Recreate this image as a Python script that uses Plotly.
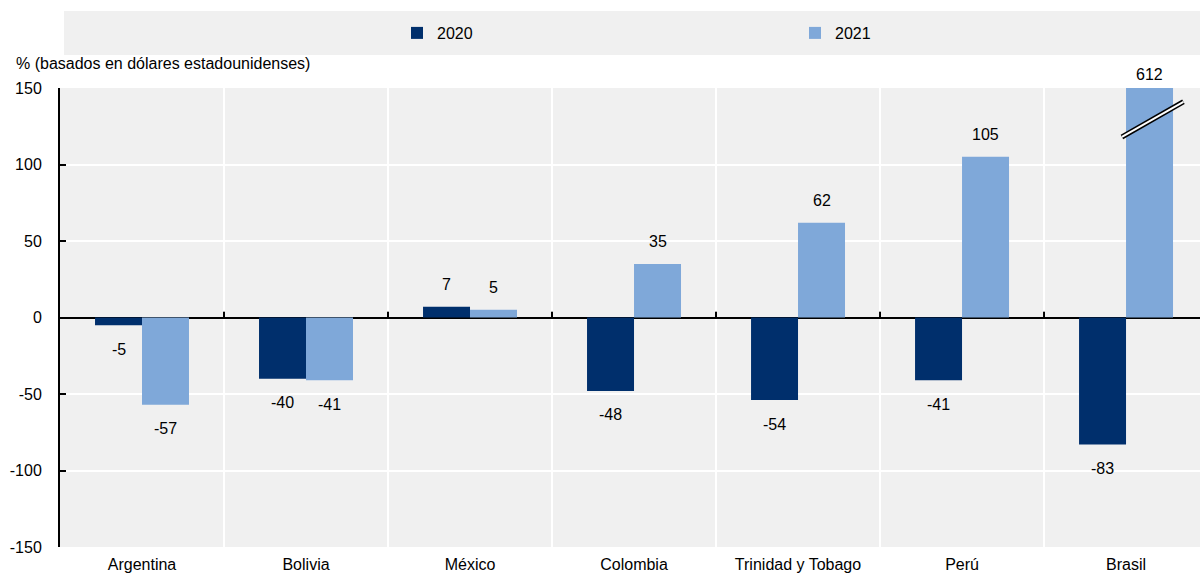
import plotly.graph_objects as go

categories = ["Argentina", "Bolivia", "México", "Colombia", "Trinidad y Tobago", "Perú", "Brasil"]
values_2020 = [-5, -40, 7, -48, -54, -41, -83]
values_2021 = [-57, -41, 5, 35, 62, 105, 612]
series_names = ["2020", "2021"]
y_ticks = [-150, -100, -50, 0, 50, 100, 150]
y_title = "% (basados en dólares estadounidenses)"

COL_2020 = "#002F6C"
COL_2021 = "#7FA8D9"
BG = "#F0F0F0"
FONT = "Liberation Sans, Arial, sans-serif"
FS = 16
YMIN, YMAX = -150, 150

fig = go.Figure()
for name, vals, col in [(series_names[0], values_2020, COL_2020), (series_names[1], values_2021, COL_2021)]:
    fig.add_trace(go.Bar(name=name, x=categories, y=vals, marker=dict(color=col, line=dict(width=0)),
                         hoverinfo="x+y+name"))

# value labels
annotations = []
n = len(categories)
bw = (1 - 0.427) / 2
for k, vals in enumerate([values_2020, values_2021]):
    off = -bw / 2 if k == 0 else bw / 2
    for i, v in enumerate(vals):
        if v > YMAX:
            yv, shift = YMAX, 14
        elif v >= 0:
            yv, shift = v, 22
        else:
            yv, shift = v, -24
        annotations.append(dict(x=i + off, y=yv, xref="x", yref="y", text=str(v), showarrow=False,
                                yshift=shift, xanchor="center", yanchor="middle",
                                font=dict(family=FONT, size=FS, color="#000")))

annotations.append(dict(x=-46 / 1140, y=(547 - 63) / 459, xref="paper", yref="paper", text=y_title,
                        showarrow=False, xanchor="left", yanchor="middle",
                        font=dict(family=FONT, size=FS, color="#000")))

shapes = []
# legend background
shapes.append(dict(type="rect", xref="paper", yref="paper", x0=4 / 1140, x1=1.0, y0=(547 - 55) / 459,
                   y1=(547 - 11) / 459, fillcolor=BG, line=dict(width=0), layer="below"))
# vertical category separators and zero-line ticks
for i in range(n - 1):
    shapes.append(dict(type="line", xref="x", yref="paper", x0=i + 0.5, x1=i + 0.5, y0=0, y1=1,
                       line=dict(color="white", width=2), layer="below"))
    shapes.append(dict(type="line", xref="x", yref="y", x0=i + 0.5, x1=i + 0.5, y0=0, y1=3.8,
                       line=dict(color="black", width=2), layer="above"))
# axis break marks on the Brasil 2021 bar
shapes.append(dict(type="line", xref="x", yref="y", x0=5.975, x1=6.35, y0=118, y1=141,
                   line=dict(color="black", width=5), layer="above"))
shapes.append(dict(type="line", xref="x", yref="y", x0=5.975, x1=6.35, y0=118, y1=141,
                   line=dict(color="white", width=2), layer="above"))

fig.update_layout(
    width=1200, height=574,
    margin=dict(l=60, r=0, t=88, b=27),
    paper_bgcolor="white", plot_bgcolor=BG,
    barmode="group", bargap=0.427, bargroupgap=0,
    font=dict(family=FONT, size=FS, color="#000"),
    showlegend=True,
    legend=dict(orientation="h", x=(397 - 60) / 1140, y=(547 - 33) / 459, xanchor="left", yanchor="middle",
                bgcolor="rgba(0,0,0,0)", entrywidth=353, itemwidth=30,
                font=dict(family=FONT, size=FS, color="#000")),
    annotations=annotations,
    shapes=shapes,
)
fig.update_xaxes(range=[-0.5, 6.451], showgrid=False, showline=False, ticks="",
                 tickfont=dict(family=FONT, size=FS, color="#000"), ticklabelstandoff=6)
fig.update_yaxes(range=[YMIN, YMAX], tickvals=y_ticks, ticktext=[str(t) for t in y_ticks],
                 showgrid=True, gridcolor="white", gridwidth=2,
                 zeroline=True, zerolinecolor="black", zerolinewidth=2,
                 showline=True, linecolor="black", linewidth=2, ticks="inside", ticklen=6,
                 tickcolor="black", tickwidth=2, ticklabelstandoff=13,
                 tickfont=dict(family=FONT, size=FS, color="#000"))

fig.write_html("out.html", config={"displayModeBar": False},
               post_script="document.body.style.margin='0';document.body.style.overflow='hidden';")
